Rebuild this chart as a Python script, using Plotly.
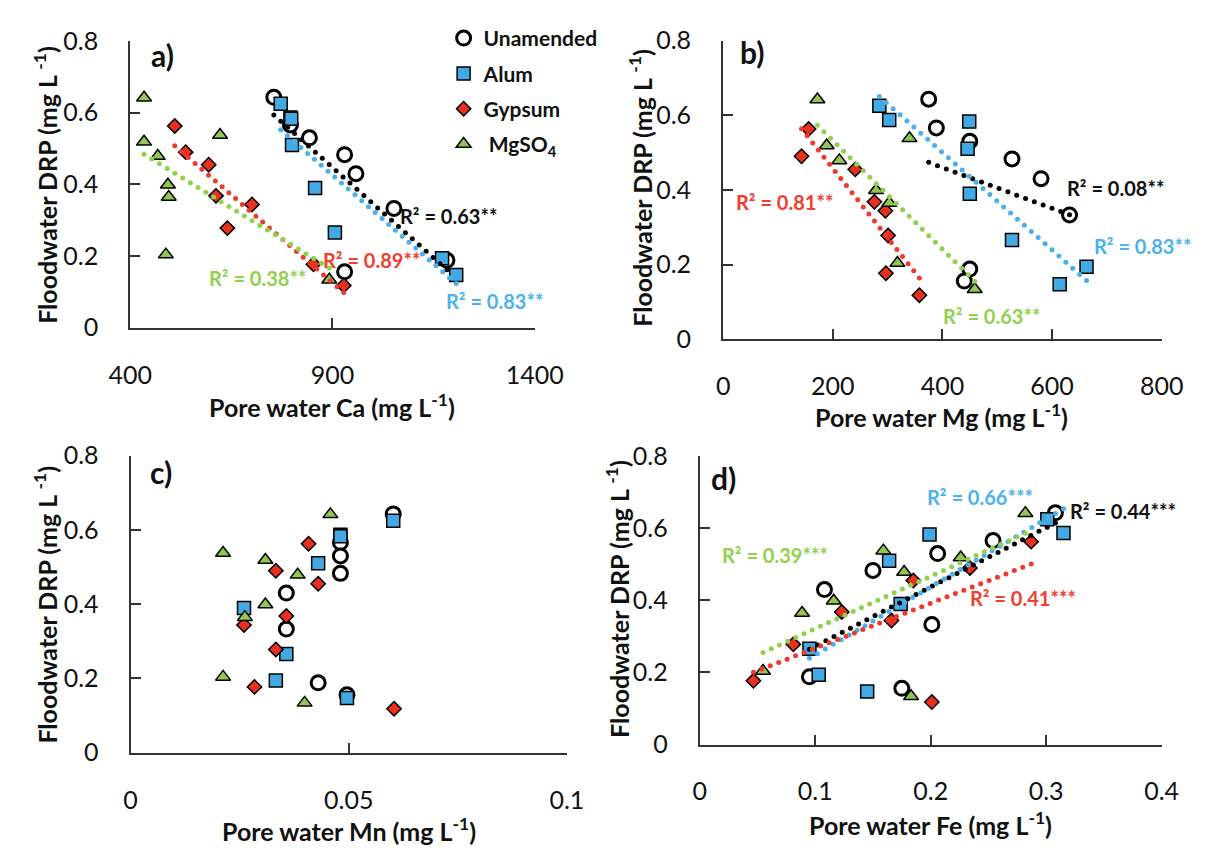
import numpy as np
import plotly.graph_objects as go

W, H = 1221, 857

# ---------------- data ----------------
treatments = ["Unamended", "Alum", "Gypsum", "MgSO4"]
legend_names = ["Unamended", "Alum", "Gypsum", " MgSO<sub>4</sub>"]

drp_unamended = [0.643, 0.566, 0.530, 0.483, 0.430, 0.333, 0.188, 0.156]
drp_alum = [0.625, 0.587, 0.583, 0.510, 0.390, 0.266, 0.194, 0.147]
drp_gypsum = [0.563, 0.490, 0.455, 0.368, 0.344, 0.278, 0.177, 0.118]
drp_mgso4 = [0.642, 0.538, 0.519, 0.479, 0.399, 0.365, 0.204, 0.134]

ca_unamended = [755, 796, 843, 930, 958, 1052, 1183, 930]
ca_alum = [772, 796, 798, 800, 857, 906, 1171, 1206]
ca_gypsum = [510, 537, 594, 612, 701, 640, 853, 928]
ca_mgso4 = [434, 622, 434, 468, 493, 495, 488, 892]

mg_unamended = [375, 389, 450, 527, 580, 632, 450, 440]
mg_alum = [285, 303, 449, 446, 450, 527, 663, 614]
mg_gypsum = [156, 143, 241, 276, 296, 301, 297, 358]
mg_mgso4 = [172, 340, 189, 212, 279, 303, 318, 459]

mn_unamended = [0.0602, 0.0481, 0.0481, 0.0481, 0.0357, 0.0357, 0.0430, 0.0496]
mn_alum = [0.0602, 0.0481, 0.0481, 0.0430, 0.0260, 0.0357, 0.0333, 0.0496]
mn_gypsum = [0.0408, 0.0333, 0.0430, 0.0357, 0.0260, 0.0333, 0.0284, 0.0604]
mn_mgso4 = [0.0458, 0.0212, 0.0309, 0.0383, 0.0309, 0.0262, 0.0212, 0.0399]

fe_unamended = [0.308, 0.254, 0.206, 0.150, 0.108, 0.201, 0.095, 0.175]
fe_alum = [0.301, 0.315, 0.199, 0.164, 0.174, 0.095, 0.103, 0.145]
fe_gypsum = [0.287, 0.234, 0.185, 0.123, 0.166, 0.081, 0.0465, 0.201]
fe_mgso4 = [0.282, 0.159, 0.226, 0.177, 0.116, 0.0886, 0.0548, 0.183]

r2_ca = ["R² = 0.63**", "R² = 0.83**", "R² = 0.89**", "R² = 0.38**"]
r2_mg = ["R² = 0.08**", "R² = 0.83**", "R² = 0.81**", "R² = 0.63**"]
r2_fe = ["R² = 0.44***", "R² = 0.66***", "R² = 0.41***", "R² = 0.39***"]

x_ticks_ca = [400, 900, 1400]
x_ticks_mg = [0, 200, 400, 600, 800]
x_ticks_mn = [0, 0.05, 0.1]
x_ticks_fe = [0, 0.1, 0.2, 0.3, 0.4]
y_ticks = [0, 0.2, 0.4, 0.6, 0.8]

# ---------------- styles ----------------
FONT = "Lato"
TXT = "#111111"
marker_styles = [
    dict(symbol="circle", size=14, color="white", line=dict(color="black", width=3)),
    dict(symbol="square", size=13, color="#42A9E4", line=dict(color="black", width=1.5)),
    dict(symbol="diamond", size=11, color="#E8301F", line=dict(color="black", width=1.5)),
    dict(symbol="triangle-up", size=13, color="#93C552", line=dict(color="black", width=1.5)),
]
trend_colors = ["#000000", "#4AB0EA", "#EE3A2C", "#92D050"]
label_colors = ["#111111", "#4DB3EC", "#F0402F", "#92D050"]
DOT_SPACING_PX = 9.5

drp = [drp_unamended, drp_alum, drp_gypsum, drp_mgso4]
panels = [
    dict(x=[ca_unamended, ca_alum, ca_gypsum, ca_mgso4], trend=True, r2=r2_ca),
    dict(x=[mg_unamended, mg_alum, mg_gypsum, mg_mgso4], trend=True, r2=r2_mg),
    dict(x=[mn_unamended, mn_alum, mn_gypsum, mn_mgso4], trend=False, r2=None),
    dict(x=[fe_unamended, fe_alum, fe_gypsum, fe_mgso4], trend=True, r2=r2_fe),
]

# pixel frames of each plot area: (left, right, top, bottom)
frames = [
    (113.0, 535.0, 26.0, 323.0),
    (731.7, 1189.3, 25.4, 335.0),
    (113.3, 568.6, 455.7, 763.3),
    (707.3, 1189.3, 456.2, 755.0),
]
x_ranges = [[400, 1400], [0, 800], [0, 0.1], [0, 0.4]]
y_range = [0, 0.8]
x_tickvals = [x_ticks_ca, x_ticks_mg, x_ticks_mn, x_ticks_fe]
x_label_standoff = [24, 24, 24, 23]
x_titles = ["Pore water Ca (mg L<sup>-1</sup>)", "Pore water Mg (mg L<sup>-1</sup>)",
            "Pore water Mn (mg L<sup>-1</sup>)", "Pore water Fe (mg L<sup>-1</sup>)"]
x_title_pos = [(324, 404), (960, 414), (341, 843), (948, 837)]
y_title_pos = [(25, 175), (646, 178), (25, 610), (622, 604)]
panel_labels = ["a)", "b)", "c)", "d)"]
panel_label_pos = [(133, 40), (747, 37), (132, 473), (717, 479)]
# R² label anchors (left edge, vertical centre) in data units, per treatment
r2_pos = [
    [(1063, 0.312), (1175, 0.075), (871.6, 0.188), (589.6, 0.14)],
    [(623, 0.406), (673.6, 0.251), (20.5, 0.367), (397.7, 0.062)],
    None,
    [(0.3185, 0.648), (0.1948, 0.688), (0.232, 0.407), (0.0172, 0.527)],
]

fig = go.Figure()
annotations = []

def px(xp):
    return xp / W

def py(yp):
    return 1 - yp / H

for p, panel in enumerate(panels):
    ax = "" if p == 0 else str(p + 1)
    xref, yref = "x" + ax, "y" + ax
    l, r, tp, b = frames[p]
    for t in range(4):
        fig.add_trace(go.Scatter(
            x=panel["x"][t], y=drp[t], mode="markers",
            marker=marker_styles[t], name=legend_names[t],
            legendgroup=treatments[t], showlegend=(p == 0),
            xaxis=xref, yaxis=yref, cliponaxis=False,
        ))
    if panel["trend"]:
        for t in range(4):
            xs = np.array(panel["x"][t], dtype=float)
            ys = np.array(drp[t], dtype=float)
            slope, icpt = np.polyfit(xs, ys, 1)
            x0, x1 = xs.min(), xs.max()
            # number of round dots along the linear trendline (Excel "round dot" style)
            sx = (r - l) / (x_ranges[p][1] - x_ranges[p][0])
            sy = (b - tp) / (y_range[1] - y_range[0])
            length_px = np.hypot((x1 - x0) * sx, slope * (x1 - x0) * sy)
            n = max(2, int(round(length_px / DOT_SPACING_PX)) + 1)
            xl = np.linspace(x0, x1, n)
            fig.add_trace(go.Scatter(
                x=xl, y=slope * xl + icpt, mode="markers",
                marker=dict(symbol="circle", size=5, color=trend_colors[t], line=dict(width=0)),
                showlegend=False, hoverinfo="skip",
                xaxis=xref, yaxis=yref,
            ))
            lx, ly = r2_pos[p][t]
            annotations.append(dict(
                x=lx, y=ly, xref=xref, yref=yref, xanchor="left", yanchor="middle",
                text="<b>" + panel["r2"][t] + "</b>", showarrow=False,
                font=dict(family=FONT, size=20, color=label_colors[t]),
            ))

    axis_common = dict(
        showline=True, linecolor="#333333", linewidth=2, ticks="inside",
        ticklen=10, tickwidth=1.5, tickcolor="#333333", showgrid=False,
        zeroline=False, tickfont=dict(family=FONT, size=25, color=TXT),
        fixedrange=True,
    )
    fig.update_layout(**{
        "xaxis" + ax: dict(domain=[px(l), px(r)], range=x_ranges[p],
                            tickvals=x_tickvals[p], anchor=yref,
                            ticklabelstandoff=x_label_standoff[p], **axis_common),
        "yaxis" + ax: dict(domain=[py(b), py(tp)], range=y_range,
                            tickvals=y_ticks, anchor=xref,
                            ticklabelstandoff=25, **axis_common),
    })
    # axis titles
    annotations.append(dict(
        x=px(x_title_pos[p][0]), y=py(x_title_pos[p][1]), xref="paper", yref="paper",
        xanchor="center", yanchor="middle", showarrow=False,
        text="<b>" + x_titles[p] + "</b>", font=dict(family=FONT, size=25, color=TXT),
    ))
    annotations.append(dict(
        x=px(y_title_pos[p][0]), y=py(y_title_pos[p][1]), xref="paper", yref="paper",
        xanchor="center", yanchor="middle", showarrow=False, textangle=-90,
        text="<b>Floodwater DRP (mg L <sup>-1</sup>)</b>",
        font=dict(family=FONT, size=25, color=TXT),
    ))
    annotations.append(dict(
        x=px(panel_label_pos[p][0]), y=py(panel_label_pos[p][1]), xref="paper", yref="paper",
        xanchor="left", yanchor="middle", showarrow=False,
        text="<b>" + panel_labels[p] + "</b>", font=dict(family=FONT, size=30, color=TXT),
    ))

fig.update_layout(
    width=W, height=H, margin=dict(l=0, r=0, t=0, b=0),
    paper_bgcolor="white", plot_bgcolor="white",
    annotations=annotations,
    showlegend=True,
    legend=dict(
        x=px(440), y=py(2), xanchor="left", yanchor="top",
        font=dict(family=FONT, size=21, color=TXT, weight="bold"),
        bgcolor="rgba(0,0,0,0)", tracegroupgap=5, itemwidth=30,
    ),
)

fig.write_html("out.html", post_script="document.body.style.margin='0px';")
